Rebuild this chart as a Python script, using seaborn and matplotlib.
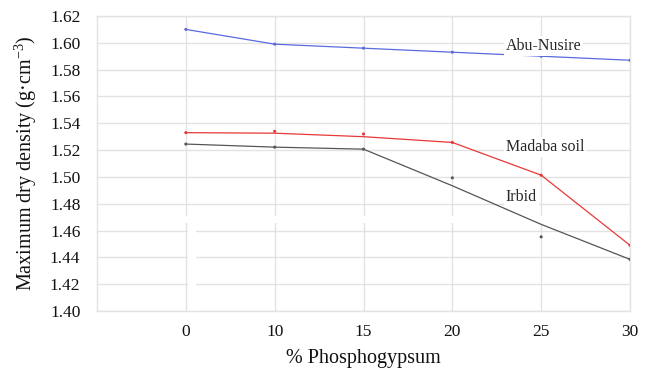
import numpy as np
import pandas as pd
import matplotlib
matplotlib.use("Agg")
import matplotlib.pyplot as plt
import seaborn as sns

# ---- data ----
pct_labels = ["0", "10", "15", "20", "25", "30"]
abu_line = [1.610, 1.599, 1.596, 1.593, 1.590, 1.587]
madaba_line = [1.533, 1.5326, 1.530, 1.5257, 1.5013, 1.4490]
irbid_line = [1.5245, 1.5222, 1.5207, 1.4934, 1.4646, 1.4385]
madaba_pts = [1.533, 1.534, 1.532, 1.5257, 1.5013, 1.4490]
irbid_pts = [1.5245, 1.5222, 1.5207, 1.4993, 1.4553, 1.4385]
abu_pts = [1.610, 1.599, 1.596, 1.593, 1.590, 1.587]
series_names = ["Abu-Nusire", "Madaba soil", "Irbid"]
colors = ["#5a6ae0", "#e83838", "#555555"]

sns.set_theme(style="whitegrid")
plt.rcParams["font.family"] = ["Liberation Serif", "DejaVu Serif"]
plt.rcParams["mathtext.fontset"] = "custom"
plt.rcParams["mathtext.rm"] = "Liberation Serif"
plt.rcParams["mathtext.it"] = "Liberation Serif:italic"

pos = np.arange(len(pct_labels))
rows = []
for name, ln, pt in zip(series_names, [abu_line, madaba_line, irbid_line],
                        [abu_pts, madaba_pts, irbid_pts]):
    for p, l, v in zip(pos, ln, pt):
        rows.append({"pos": p, "line": l, "pt": v, "series": name})
df = pd.DataFrame(rows)
pal = dict(zip(series_names, colors))

fig = plt.figure(figsize=(6.49, 3.69), dpi=100)
ax = fig.add_axes([97/649, 1 - 311/369, (630-97)/649, (311-16)/369])

sns.lineplot(data=df, x="pos", y="line", hue="series", palette=pal, ax=ax,
             linewidth=0.9, legend=False, zorder=3)
sns.scatterplot(data=df, x="pos", y="pt", hue="series", palette=pal, ax=ax,
                s=5, linewidth=0, legend=False, zorder=4)

ax.set_xlim(-1, 5)
ax.set_ylim(1.40, 1.62)
ax.set_xticks(pos)
ax.set_xticklabels(pct_labels)
ax.set_yticks(np.arange(1.40, 1.621, 0.02))
ax.yaxis.set_major_formatter(matplotlib.ticker.FormatStrFormatter("%.2f"))
ax.tick_params(axis="both", labelsize=12.5, colors="#111111")
ax.tick_params(axis="x", pad=3)
ax.tick_params(axis="y", pad=6)
ax.grid(True, color="#e2e2e2", linewidth=1)
for s in ax.spines.values():
    s.set_color("#e2e2e2")
    s.set_linewidth(1)

# white artifact band from original image
ax.axhspan(1.4655, 1.4705, color="white", zorder=1.5, linewidth=0)
ax.axvspan(0.02, 0.12, ymin=0, ymax=(1.4705-1.40)/0.22, color="white", zorder=1.5, linewidth=0)

ax.set_xlabel("% Phosphogypsum", fontsize=14.5, color="#111111", labelpad=7)
ax.set_ylabel("Maximum dry density (g·cm$^{-3}$)", fontsize=14.5, color="#111111", labelpad=8)

bbox = dict(facecolor="white", edgecolor="none", pad=1.5)
ax.text(3.6, 1.5976, "Abu-Nusire", fontsize=11.5, va="center", ha="left", bbox=bbox, zorder=5)
ax.text(3.6, 1.5222, "Madaba soil", fontsize=11.5, va="center", ha="left", bbox=bbox, zorder=5)
ax.text(3.6, 1.4850, "Irbid", fontsize=11.5, va="center", ha="left", bbox=bbox, zorder=5)

fig.savefig("out.png", dpi=100)
